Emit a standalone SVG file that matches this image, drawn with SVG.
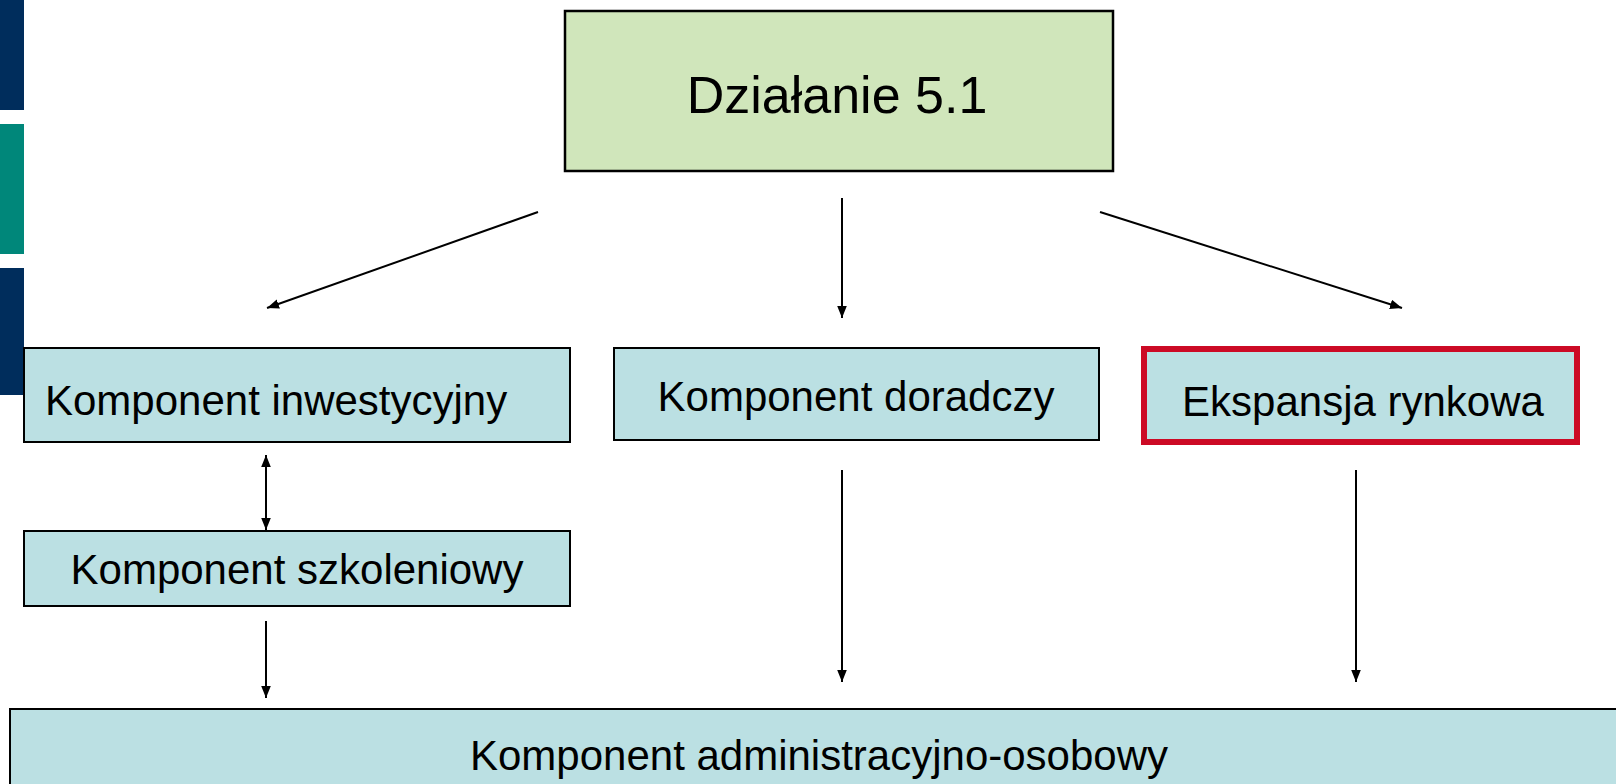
<svg xmlns="http://www.w3.org/2000/svg" width="1616" height="784" viewBox="0 0 1616 784">
<style>
.box{fill:#BBE0E3;stroke:#000;stroke-width:2}
.top{fill:#D0E6BB;stroke:#000;stroke-width:2.5}
.red{fill:#BBE0E3;stroke:#CC0A25;stroke-width:6}
.t{font-family:"Liberation Sans",Arial,sans-serif;font-size:42px;fill:#000}
.c{text-anchor:middle}
.ln{stroke:#000;stroke-width:2;fill:none;marker-end:url(#ah)}
</style>
<defs>
<marker id="ah" viewBox="0 0 10 8" refX="10" refY="4" markerWidth="6" markerHeight="5" markerUnits="strokeWidth" orient="auto-start-reverse">
<path d="M0,0 L10,4 L0,8 z" fill="#000"/>
</marker>
</defs>
<rect width="1616" height="784" fill="#fff"/>
<g id="sidebar">
<rect x="0" y="0" width="24" height="110" fill="#002D5C"/>
<rect x="0" y="124" width="24" height="130" fill="#00877A"/>
<rect x="0" y="268" width="24" height="127" fill="#002D5C"/>
</g>
<g id="connectors">
<line class="ln" x1="538" y1="212" x2="267" y2="308"/>
<line class="ln" x1="842" y1="198" x2="842" y2="318"/>
<line class="ln" x1="1100" y1="212" x2="1402" y2="308"/>
<line class="ln" x1="266" y1="455" x2="266" y2="530" style="marker-start:url(#ah)"/>
<line class="ln" x1="266" y1="621" x2="266" y2="698"/>
<line class="ln" x1="842" y1="470" x2="842" y2="682"/>
<line class="ln" x1="1356" y1="470" x2="1356" y2="682"/>
</g>
<g id="n-dzialanie">
<rect class="top" x="565" y="11" width="548" height="160"/>
<text class="t c" x="837" y="113" style="font-size:52px">Działanie 5.1</text>
</g>
<g id="n-inwestycyjny">
<rect class="box" x="24" y="348" width="546" height="94"/>
<text class="t" x="45" y="415">Komponent inwestycyjny</text>
</g>
<g id="n-doradczy">
<rect class="box" x="614" y="348" width="485" height="92"/>
<text class="t c" x="856" y="411">Komponent doradczy</text>
</g>
<g id="n-ekspansja">
<rect class="red" x="1144" y="349" width="433" height="93"/>
<text class="t c" x="1363" y="416">Ekspansja rynkowa</text>
</g>
<g id="n-szkoleniowy">
<rect class="box" x="24" y="531" width="546" height="75"/>
<text class="t c" x="297" y="584">Komponent szkoleniowy</text>
</g>
<g id="n-administracyjno">
<rect class="box" x="10" y="709" width="1620" height="90"/>
<text class="t c" x="819" y="770">Komponent administracyjno-osobowy</text>
</g>
</svg>
